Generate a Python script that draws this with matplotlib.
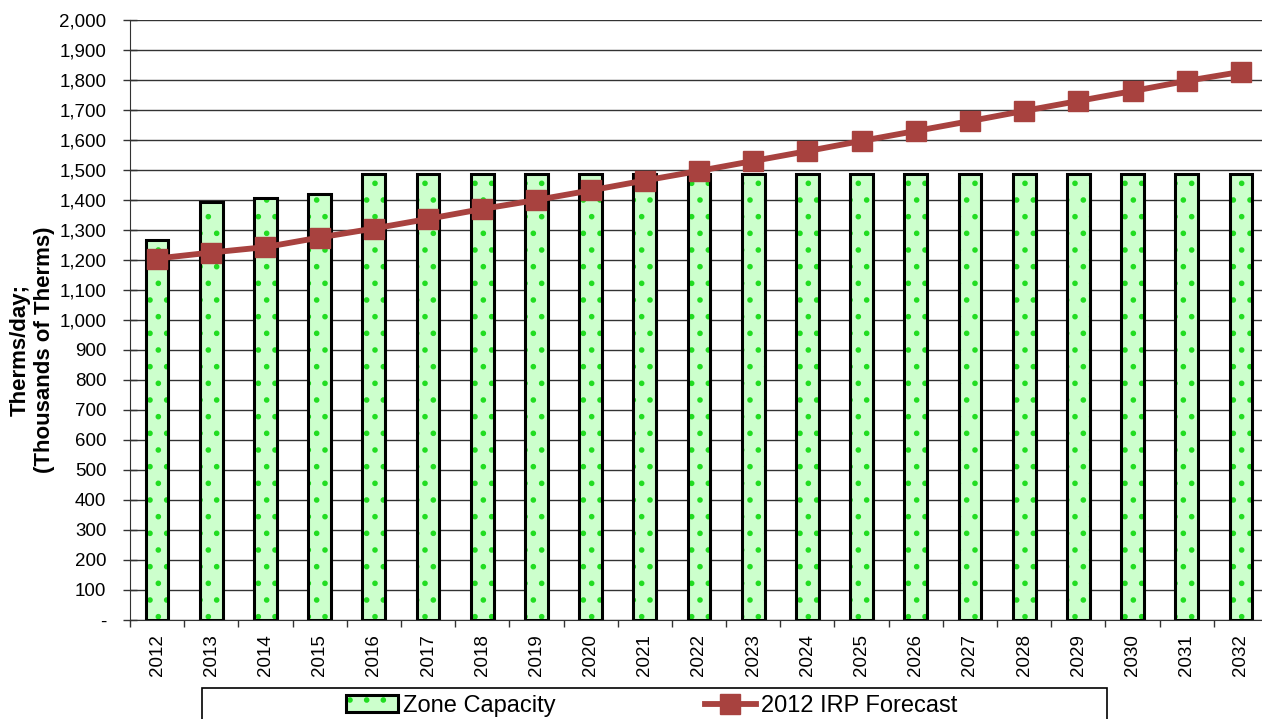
import numpy as np
import matplotlib.pyplot as plt
from matplotlib.patches import Patch, Rectangle
from matplotlib.lines import Line2D
from matplotlib.legend_handler import HandlerTuple
from matplotlib.ticker import FuncFormatter

plt.rcParams['font.family'] = ['Liberation Sans', 'DejaVu Sans']
plt.rcParams['hatch.linewidth'] = 1.6

years = [str(y) for y in range(2012, 2033)]
zone_capacity = [1267, 1393, 1407, 1420] + [1487] * 17
irp_forecast = [1205, 1225, 1243, 1275, 1305, 1337, 1370, 1400, 1432, 1465, 1497,
                1530, 1563, 1597, 1630, 1663, 1697, 1730, 1763, 1797, 1827]

BAR_FILL = "#ccffcc"
DOT = "#22dd22"
LINE = "#a8423f"

fig = plt.figure(figsize=(12.62, 7.19), dpi=100)
ax = fig.add_axes([130 / 1262, 99 / 719, 1138 / 1262, 600 / 719])

x = np.arange(len(years))
ax.bar(x, zone_capacity, width=0.42, color=BAR_FILL, edgecolor=DOT, hatch=".", linewidth=0, zorder=2)
ax.bar(x, zone_capacity, width=0.42, fill=False, edgecolor="black", linewidth=2.2, zorder=3)
ax.plot(x, irp_forecast, color=LINE, linewidth=4.2, marker="s", markersize=15, zorder=4)

ax.set_xlim(-0.5, len(years) - 0.5)
ax.set_ylim(0, 2000)
ax.set_yticks(np.arange(0, 2001, 100))
ax.yaxis.set_major_formatter(FuncFormatter(lambda v, p: "-" if v == 0 else f"{int(v):,}"))
ax.yaxis.grid(True, color="#333333", linewidth=1.0, zorder=0)
ax.set_axisbelow(True)

ax.set_xticks(x)
ax.set_xticklabels(years, rotation=90)
ax.set_xticks(np.arange(-0.5, len(years), 1), minor=True)
ax.tick_params(axis="x", which="major", length=0, pad=10, labelsize=13.5)
ax.tick_params(axis="x", which="minor", length=5, width=1, color="#333333")
ax.tick_params(axis="y", direction="inout", length=10, width=1, color="#333333",
               labelsize=13.5, pad=12)

for side in ["top", "right"]:
    ax.spines[side].set_visible(False)
ax.spines["left"].set_color("#333333")
ax.spines["bottom"].set_color("#333333")

ax.set_ylabel("Therms/day;\n(Thousands of Therms)", fontsize=16, fontweight="bold")
ax.yaxis.set_label_coords(-0.066, 0.45)

# legend
bar_fill = Patch(facecolor=BAR_FILL, edgecolor=DOT, hatch=".", linewidth=0)
bar_edge = Patch(fill=False, edgecolor="black", linewidth=2.2)
line_h = Line2D([], [], color=LINE, linewidth=4.2, marker="s", markersize=15)
fig.legend([(bar_fill, bar_edge), line_h], ["Zone Capacity", "2012 IRP Forecast"],
           handler_map={tuple: HandlerTuple(ndivide=1, pad=0)},
           loc="center", bbox_to_anchor=(652 / 1262, 13 / 719), ncol=2, frameon=False,
           fontsize=17, handlelength=2.2, handletextpad=0.2, columnspacing=6.3,
           borderaxespad=0, borderpad=0)
fig.add_artist(Rectangle((202 / 1262, -0.05), 905 / 1262, 31 / 719 + 0.05,
                         transform=fig.transFigure, fill=False, edgecolor="black",
                         linewidth=1.2, clip_on=False))

fig.savefig("out.png", dpi=100)
